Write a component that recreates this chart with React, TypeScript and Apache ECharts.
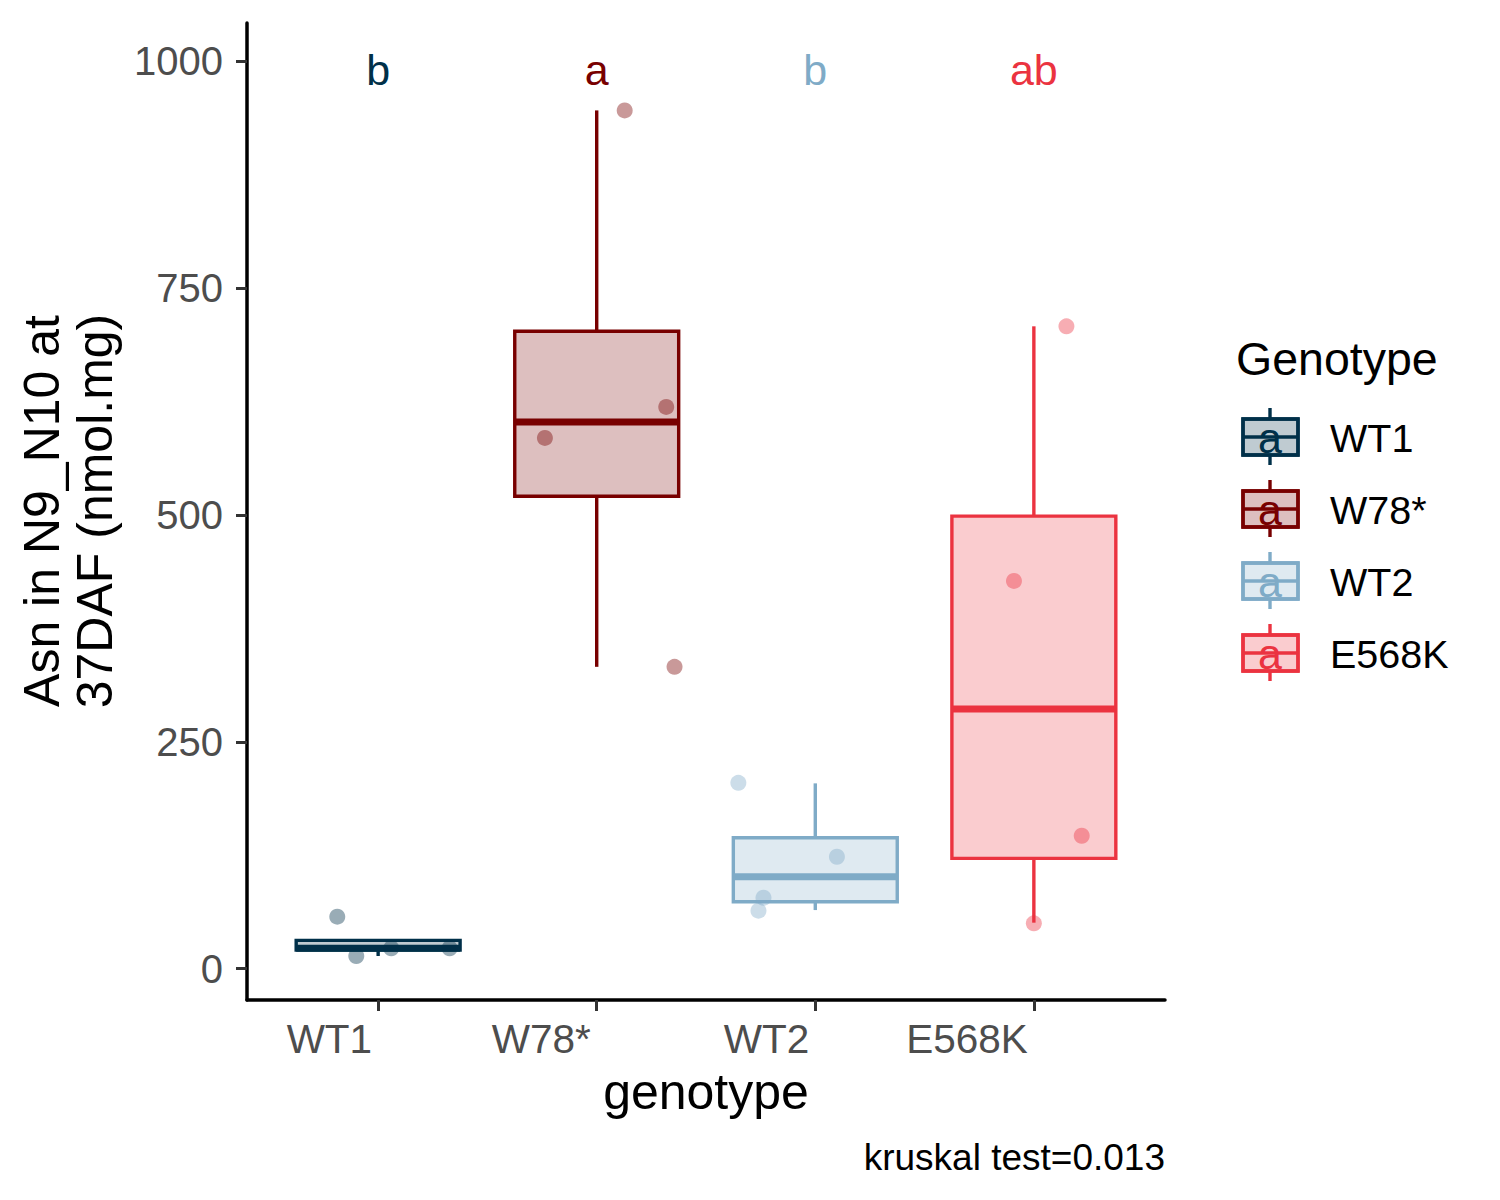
import * as echarts from "echarts";
import { useEffect, useRef } from "react";

const FONT = "'Liberation Sans', Arial, sans-serif";

const genotypes = ["WT1", "W78*", "WT2", "E568K"];
const colors = ["#003049", "#780000", "#7FABC7", "#EB3340"];
const letters = ["b", "a", "b", "ab"];
const letterY = 990;
const yTicks = [0, 250, 500, 750, 1000];

// lower whisker, Q1, median, Q3, upper whisker
const wt1Box = [14, 20.4, 22.5, 31.2, 31.2];
const w78Box = [332.6, 520.6, 602.4, 702.3, 945.7];
const wt2Box = [64.6, 73.8, 101.3, 144.3, 204.2];
const e568kBox = [50.7, 121.6, 286, 498.6, 707.8];

// raw points and their horizontal jitter
const wt1Points = [57.3, 14, 22.5, 22.5];
const wt1Jitter = [-0.187, -0.1, 0.06, 0.327];
const w78Points = [945.7, 619, 584.8, 332.6];
const w78Jitter = [0.128, 0.318, -0.237, 0.356];
const wt2Points = [204.8, 123.3, 78.2, 63.9];
const wt2Jitter = [-0.352, 0.099, -0.237, -0.26];
const e568kPoints = [427.3, 146.5, 50, 707.8];
const e568kJitter = [-0.091, 0.219, 0, 0.149];

const boxes = [wt1Box, w78Box, wt2Box, e568kBox];
const points = [wt1Points, w78Points, wt2Points, e568kPoints];
const jitters = [wt1Jitter, w78Jitter, wt2Jitter, e568kJitter];

function rgba(hex: string, a: number) {
  const n = parseInt(hex.slice(1), 16);
  return `rgba(${(n >> 16) & 255},${(n >> 8) & 255},${n & 255},${a})`;
}

function renderBox(params: any, api: any) {
  const i = params.dataIndex;
  const x = api.value(0);
  const lo = api.coord([x, api.value(1)]);
  const q1 = api.coord([x, api.value(2)]);
  const med = api.coord([x, api.value(3)]);
  const q3 = api.coord([x, api.value(4)]);
  const hi = api.coord([x, api.value(5)]);
  const w = api.size([0.75, 0])[0];
  const c = colors[i];
  const line = { stroke: c, lineWidth: 3.4 };
  return {
    type: "group",
    children: [
      { type: "line", shape: { x1: hi[0], y1: hi[1], x2: q3[0], y2: q3[1] }, style: line },
      { type: "line", shape: { x1: lo[0], y1: lo[1], x2: q1[0], y2: q1[1] }, style: line },
      {
        type: "rect",
        shape: { x: q3[0] - w / 2, y: q3[1], width: w, height: q1[1] - q3[1] },
        style: { fill: rgba(c, 0.25), stroke: c, lineWidth: 3.4 },
      },
      {
        type: "line",
        shape: { x1: med[0] - w / 2, y1: med[1], x2: med[0] + w / 2, y2: med[1] },
        style: { stroke: c, lineWidth: 7 },
      },
    ],
  };
}

function renderLetter(params: any, api: any) {
  const i = params.dataIndex;
  const p = api.coord([api.value(0), api.value(1)]);
  return {
    type: "text",
    x: p[0],
    y: p[1],
    style: {
      text: letters[i],
      fill: colors[i],
      font: `43px ${FONT}`,
      align: "center",
      verticalAlign: "middle",
    },
  };
}

function legendGraphics() {
  const items: any[] = [
    {
      type: "text",
      left: 1236,
      top: 335,
      style: { text: "Genotype", fill: "#000", font: `46.5px ${FONT}` },
    },
  ];
  const centers = [437, 509, 581, 653];
  genotypes.forEach((g, i) => {
    const cy = centers[i];
    const c = colors[i];
    items.push(
      { type: "line", shape: { x1: 1270, y1: cy - 29, x2: 1270, y2: cy + 28 }, style: { stroke: c, lineWidth: 3.4 } },
      {
        type: "rect",
        shape: { x: 1243, y: cy - 18, width: 55, height: 36 },
        style: { fill: "#fff", stroke: c, lineWidth: 3.4 },
      },
      {
        type: "rect",
        shape: { x: 1243, y: cy - 18, width: 55, height: 36 },
        style: { fill: rgba(c, 0.25), stroke: c, lineWidth: 3.4 },
      },
      { type: "line", shape: { x1: 1243, y1: cy, x2: 1298, y2: cy }, style: { stroke: c, lineWidth: 3.4 } },
      {
        type: "text",
        x: 1270,
        y: cy + 1,
        style: { text: "a", fill: c, font: `43px ${FONT}`, align: "center", verticalAlign: "middle" },
      },
      {
        type: "text",
        x: 1330,
        y: cy + 1,
        style: { text: g, fill: "#000", font: `39.5px ${FONT}`, align: "left", verticalAlign: "middle" },
      },
    );
  });
  return items;
}

function getOption() {
  const axisLine = { show: true, onZero: false, lineStyle: { color: "#000", width: 3.5 } };
  const axisTick = (vals: number[]) => ({
    show: true,
    customValues: vals,
    length: 11,
    lineStyle: { color: "#333", width: 3 },
  });
  return {
    animation: false,
    grid: { left: 247, right: 335, top: 23, bottom: 200, containLabel: false, outerBoundsMode: "none" },
    xAxis: {
      type: "value",
      min: -0.6,
      max: 3.6,
      axisLine,
      axisTick: axisTick([0, 1, 2, 3]),
      axisLabel: {
        customValues: [0, 1, 2, 3],
        formatter: (v: number) => genotypes[Math.round(v)] ?? "",
        align: "right",
        margin: 18,
        padding: [0, 6, 0, 0],
        fontSize: 40.5,
        color: "#4d4d4d",
        fontFamily: FONT,
      },
      splitLine: { show: false },
    },
    yAxis: {
      type: "value",
      min: -34.5,
      max: 1042,
      axisLine,
      axisTick: axisTick(yTicks),
      axisLabel: {
        customValues: yTicks,
        formatter: (v: number) => String(v),
        margin: 24,
        fontSize: 40,
        color: "#4d4d4d",
        fontFamily: FONT,
      },
      splitLine: { show: false },
    },
    series: [
      {
        type: "custom",
        renderItem: renderBox,
        data: boxes.map((b, i) => [i, ...b]),
        z: 2,
      },
      ...genotypes.map((g, i) => ({
        type: "scatter",
        name: g,
        symbol: "circle",
        symbolSize: 16,
        itemStyle: { color: rgba(colors[i], 0.5) },
        data: points[i].map((v, k) => [i + jitters[i][k], v]),
        z: 3,
      })),
      {
        type: "custom",
        renderItem: renderLetter,
        data: letters.map((_, i) => [i, letterY]),
        z: 4,
      },
    ],
    graphic: [
      {
        type: "text",
        x: 706,
        y: 1092,
        style: { text: "genotype", fill: "#000", font: `50px ${FONT}`, align: "center", verticalAlign: "middle" },
      },
      {
        type: "text",
        x: 68,
        y: 511,
        rotation: Math.PI / 2,
        style: {
          text: "Asn in N9_N10 at\n37DAF (nmol.mg)",
          fill: "#000",
          font: `50px ${FONT}`,
          lineHeight: 53,
          align: "center",
          verticalAlign: "middle",
        },
      },
      {
        type: "text",
        x: 1165,
        y: 1157,
        style: { text: "kruskal test=0.013", fill: "#000", font: `37px ${FONT}`, align: "right", verticalAlign: "middle" },
      },
      ...legendGraphics(),
    ],
  };
}

export default function App() {
  const ref = useRef<HTMLDivElement>(null);

  useEffect(() => {
    document.body.style.margin = "0";
    if (!ref.current) return;
    const chart = echarts.init(ref.current, undefined, { renderer: "svg" });
    chart.setOption(getOption() as any);
    return () => {
      chart.dispose();
    };
  }, []);

  return <div ref={ref} style={{ width: 1500, height: 1200, background: "#fff" }} />;
}
